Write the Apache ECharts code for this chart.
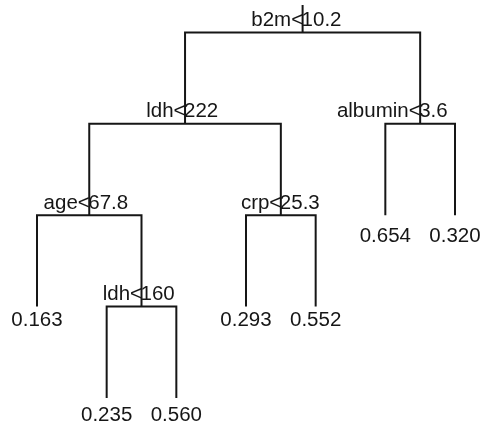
<!DOCTYPE html>
<html>
<head>
<meta charset="utf-8">
<script src="https://cdn.jsdelivr.net/npm/echarts@6/dist/echarts.min.js"></script>
<style>
  html, body { margin: 0; padding: 0; background: #fff; }
  #chart { width: 484px; height: 427px; }
</style>
</head>
<body>
<div id="chart"></div>
<script>
// Regression tree: split nodes (rpart numbering) and terminal nodes, left to right
const splitNode = [1, 2, 4, 9, 5, 3];
const splitVar = ["b2m", "ldh", "age", "ldh", "crp", "albumin"];
const splitCut = ["10.2", "222", "67.8", "160", "25.3", "3.6"];
const leafNode = [8, 18, 19, 10, 11, 6, 7];
const leafValue = ["0.163", "0.235", "0.560", "0.293", "0.552", "0.654", "0.320"];

// Layout: leaves spaced evenly, each split centred over its two children,
// vertical position = node depth in the tree
const depthOf = id => Math.floor(Math.log2(id));
const xPos = {};
leafNode.forEach((id, i) => { xPos[id] = i + 1; });
function place(id) {
  if (xPos[id] !== undefined) return xPos[id];
  xPos[id] = (place(2 * id) + place(2 * id + 1)) / 2;
  return xPos[id];
}
place(1);

const bracketData = splitNode.map((id, i) => [
  xPos[id], depthOf(id),
  xPos[2 * id], depthOf(2 * id),
  xPos[2 * id + 1], depthOf(2 * id + 1),
  i
]);
const leafData = leafNode.map((id, i) => [xPos[id], depthOf(id), i]);

const FONT = '"Liberation Sans", Arial, Helvetica, sans-serif';
const INK = '#161616';
const FS = 20.5;
const LW = 2;
// gap between the end of a terminal branch and its value, by depth
const leafGap = { 2: 21, 3: 14, 4: 17 };

const chart = echarts.init(document.getElementById('chart'), null, { renderer: 'canvas' });
chart.setOption({
  animation: false,
  backgroundColor: '#ffffff',
  grid: { left: 37, right: 29, top: 5, bottom: 29 },
  xAxis: { type: 'value', min: 1, max: 7, show: false },
  yAxis: { type: 'value', min: -0.3, max: 4, inverse: true, show: false },
  series: [
    {
      // stub above the root split
      type: 'custom',
      coordinateSystem: 'cartesian2d',
      clip: false,
      data: [[xPos[1], -0.3, xPos[1], 0]],
      encode: { x: [0, 2], y: [1, 3] },
      renderItem: function (params, api) {
        const a = api.coord([api.value(0), api.value(1)]);
        const b = api.coord([api.value(2), api.value(3)]);
        return {
          type: 'line',
          shape: { x1: a[0], y1: a[1], x2: b[0], y2: b[1] },
          style: { stroke: INK, lineWidth: LW }
        };
      }
    },
    {
      // one bracket per split, with its rule written above it
      type: 'custom',
      coordinateSystem: 'cartesian2d',
      clip: false,
      data: bracketData,
      encode: { x: [0, 2, 4], y: [1, 3, 5] },
      renderItem: function (params, api) {
        const d = api.value(1);
        const pL = api.coord([api.value(2), api.value(3)]);
        const pLt = api.coord([api.value(2), d]);
        const pRt = api.coord([api.value(4), d]);
        const pR = api.coord([api.value(4), api.value(5)]);
        const node = api.coord([api.value(0), d]);
        const k = api.value(6);
        return {
          type: 'group',
          children: [
            {
              type: 'polyline',
              shape: { points: [pL, pLt, pRt, pR] },
              style: { stroke: INK, lineWidth: LW, fill: null }
            },
            {
              type: 'text',
              x: node[0] + 0.5, y: node[1] - 12,
              style: {
                text: splitVar[k] + '<', fill: INK, font: FS + 'px ' + FONT,
                align: 'right', verticalAlign: 'middle'
              }
            },
            {
              type: 'text',
              x: node[0] - 1, y: node[1] - 12,
              style: {
                text: splitCut[k], fill: INK, font: FS + 'px ' + FONT,
                align: 'left', verticalAlign: 'middle'
              }
            }
          ]
        };
      }
    },
    {
      // fitted value under each terminal node
      type: 'custom',
      coordinateSystem: 'cartesian2d',
      clip: false,
      data: leafData,
      encode: { x: 0, y: 1 },
      renderItem: function (params, api) {
        const p = api.coord([api.value(0), api.value(1)]);
        return {
          type: 'text',
          x: p[0], y: p[1] + leafGap[api.value(1)],
          style: {
            text: leafValue[api.value(2)], fill: INK, font: FS + 'px ' + FONT,
            align: 'center', verticalAlign: 'middle'
          }
        };
      }
    }
  ]
});
</script>
</body>
</html>
